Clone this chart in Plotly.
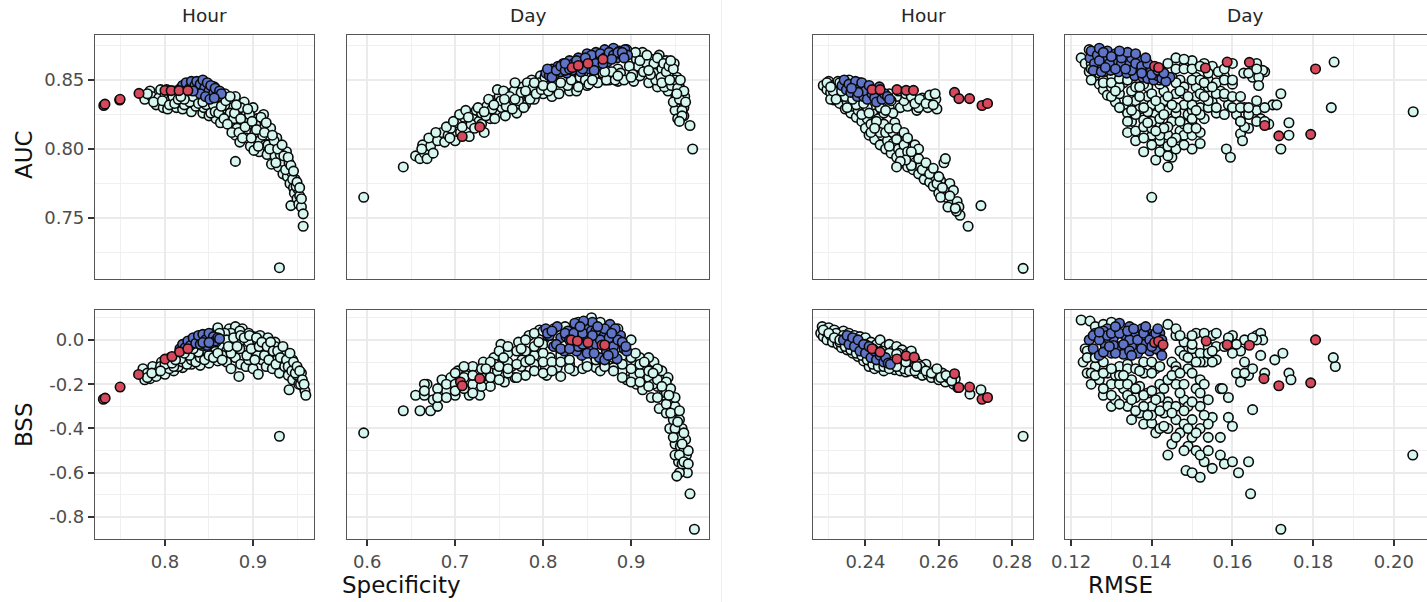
import plotly.graph_objects as go

# (Specificity, AUC) Hour
hour_spec_auc_other = [(.777,.836),(.783,.842),(.785,.838),(.79,.832),(.793,.837),(.795,.843),(.798,.83),(.80,.839),(.803,.829),(.806,.835),(.81,.842),(.813,.83),(.815,.838),(.818,.844),(.82,.829),(.823,.835),(.826,.841),(.829,.832),(.83,.827),(.833,.836),(.836,.844),(.84,.831),(.843,.826),(.846,.835),(.85,.824),(.853,.829),(.856,.845),(.858,.822),(.86,.834),(.863,.819),(.866,.828),(.868,.84),(.87,.823),(.872,.835),(.875,.818),(.877,.829),(.88,.81),(.88,.838),(.883,.822),(.885,.805),(.887,.815),(.89,.834),(.892,.826),(.893,.808),(.895,.818),(.897,.802),(.90,.83),(.902,.812),(.905,.822),(.907,.798),(.908,.806),(.91,.817),(.912,.825),(.914,.803),(.916,.796),(.918,.81),(.92,.815),(.921,.789),(.923,.802),(.925,.795),(.927,.808),(.929,.787),(.93,.80),(.932,.792),(.934,.782),(.936,.79),(.938,.798),(.939,.78),(.94,.786),(.942,.775),(.943,.759),(.944,.783),(.946,.772),(.947,.768),(.948,.778),(.95,.764),(.951,.771),(.952,.76),(.953,.766),(.955,.758),(.957,.753),(.957,.744),(.93,.714),(.88,.791),(.873,.83),(.866,.838),(.808,.84),(.812,.836),(.817,.834),(.821,.838),(.825,.834),(.829,.837),(.833,.833),(.837,.838),(.841,.835),(.845,.84),(.85,.832),(.854,.838),(.858,.83),(.862,.841),(.874,.826),(.878,.822),(.886,.83),(.889,.82),(.896,.825),(.903,.818),(.911,.81),(.917,.803),(.924,.806),(.931,.796),(.937,.785),(.941,.79),(.945,.778),(.949,.773),(.868,.832),(.882,.815),
(.78,.84),(.787,.834),(.797,.835),(.802,.843),(.805,.832),(.809,.838),(.811,.833),(.816,.841),(.819,.835),(.822,.832),(.824,.839),(.827,.836),(.831,.84),(.835,.831),(.838,.835),(.842,.838),(.844,.83),(.847,.832),(.849,.838),(.852,.826),(.855,.832),(.857,.827),(.861,.826),(.864,.831),(.867,.822),(.869,.835),(.871,.818),(.874,.838),(.876,.812),(.879,.826),(.881,.832),(.884,.812),(.886,.822),(.888,.808),(.891,.816),(.894,.829),(.898,.808),(.899,.82),(.901,.799),(.904,.814),(.906,.802),(.909,.823),(.913,.812),(.915,.819),(.919,.8),(.922,.81),(.926,.79),(.928,.8),(.933,.803),(.935,.795),(.94,.794),(.943,.788),(.946,.784),(.95,.776),(.953,.772),(.955,.764),
(.82,.838),(.825,.837),(.83,.835),(.835,.835),(.84,.834),(.815,.836),(.828,.834),(.832,.838),(.838,.833),(.843,.834),(.822,.836),(.818,.838)]
hour_spec_auc_best = [(.816,.843),(.82,.846),(.824,.848),(.828,.844),(.83,.849),(.834,.846),(.836,.849),(.838,.843),(.84,.847),(.843,.85),(.845,.844),(.848,.848),(.85,.842),(.852,.846),(.855,.84),(.857,.844),(.86,.838),(.862,.842),(.864,.84),(.84,.84),(.846,.838),(.851,.836),(.856,.837),(.832,.842)]
hour_spec_auc_top = [(.7305,.8315),(.7318,.8325),(.7485,.8355),(.749,.836),(.7705,.8403),(.80,.8425),(.807,.8423),(.816,.8423),(.826,.8423)]

# (Specificity, AUC) Day
day_spec_auc_other = [(.596,.765),(.641,.787),(.655,.795),(.66,.793),(.665,.797),(.668,.793),(.663,.803),(.672,.802),(.675,.797),(.67,.808),(.68,.806),(.685,.812),(.688,.805),(.692,.81),(.695,.815),(.70,.806),(.703,.819),(.706,.812),(.71,.823),(.713,.815),(.716,.809),(.72,.822),(.724,.828),(.727,.82),(.73,.826),(.733,.812),(.736,.831),(.74,.822),(.743,.835),(.746,.828),(.75,.838),(.753,.83),(.757,.824),(.76,.84),(.763,.833),(.767,.842),(.77,.826),(.773,.837),(.777,.845),(.78,.832),(.783,.84),(.787,.85),(.79,.836),(.793,.845),(.797,.853),(.80,.84),(.803,.848),(.81,.838),(.815,.855),(.82,.844),(.825,.85),(.83,.842),(.835,.857),(.84,.848),(.845,.854),(.85,.846),(.855,.862),(.86,.851),(.865,.858),(.87,.85),(.875,.868),(.88,.855),(.885,.849),(.89,.852),(.895,.872),(.90,.858),(.903,.849),(.906,.865),(.91,.853),(.913,.87),(.916,.858),(.92,.848),(.923,.865),(.926,.855),(.93,.845),(.932,.868),(.935,.858),(.938,.85),(.94,.864),(.942,.842),(.945,.856),(.947,.848),(.949,.862),(.951,.838),(.952,.852),(.954,.832),(.955,.845),(.956,.827),(.957,.84),(.958,.835),(.95,.828),(.948,.834),(.96,.83),(.961,.838),(.96,.824),(.953,.822),(.967,.817),(.97,.80),(.875,.85),(.885,.858),(.895,.854),(.908,.86),(.918,.862),(.928,.85),(.938,.845),
(.662,.8),(.678,.812),(.69,.816),(.694,.808),(.698,.82),(.705,.825),(.708,.816),(.712,.828),(.718,.818),(.722,.815),(.726,.83),(.73,.818),(.735,.824),(.738,.836),(.742,.829),(.745,.822),(.748,.843),(.752,.835),(.755,.842),(.758,.831),(.762,.838),(.765,.829),(.768,.848),(.772,.835),(.775,.841),(.778,.83),(.782,.848),(.785,.836),(.788,.844),(.792,.84),(.795,.848),(.798,.843),(.802,.852),(.806,.842),(.812,.848),(.818,.84),(.822,.85),(.828,.846),(.832,.85),(.838,.842),(.842,.852),(.848,.85),(.852,.847),(.858,.852),(.862,.848),(.868,.855),(.872,.85),(.878,.856),(.882,.85),(.888,.855),(.892,.85),(.898,.86),(.902,.854),(.905,.87),(.91,.864),(.914,.856),(.918,.868),(.922,.854),(.926,.862),(.93,.866),(.934,.852),(.937,.862),(.94,.856),(.943,.86),(.946,.846),(.948,.858),(.95,.85),(.953,.844),(.955,.836),(.956,.85),(.958,.828),(.96,.842),(.962,.834),(.958,.824),(.955,.82),
(.715,.823),(.733,.827),(.744,.832),(.756,.836),(.768,.836),(.78,.842),(.79,.848),(.8,.846),(.81,.845),(.82,.848),(.84,.845),(.856,.85),(.87,.856),(.885,.853),(.9,.852),(.92,.857),(.935,.848),(.945,.864),(.952,.84),(.944,.85)]
day_spec_auc_best = [(.803,.855),(.807,.853),(.81,.858),(.813,.854),(.817,.86),(.82,.856),(.823,.862),(.827,.855),(.83,.864),(.833,.857),(.836,.86),(.84,.866),(.843,.856),(.846,.862),(.85,.869),(.853,.858),(.856,.865),(.86,.87),(.863,.861),(.867,.867),(.87,.872),(.873,.863),(.877,.869),(.88,.873),(.884,.866),(.887,.871),(.89,.868),(.893,.872),(.896,.868),
(.805,.858),(.81,.852),(.815,.857),(.82,.86),(.825,.857),(.83,.858),(.835,.862),(.84,.86),(.845,.858),(.85,.864),(.855,.868),(.86,.862),(.865,.869),(.87,.866),(.875,.87),(.88,.868),(.885,.87),(.89,.87),(.825,.862),(.838,.864),(.848,.866),(.858,.857),(.868,.862),(.878,.865),(.892,.866)]
day_spec_auc_top = [(.708,.809),(.728,.816),(.833,.859),(.84,.8605),(.851,.862),(.868,.865)]

# (RMSE, AUC) Hour
hour_rmse_auc_other = [(.2285,.846),(.2295,.843),(.23,.849),(.2305,.841),(.231,.846),(.2315,.8355),(.232,.842),(.2325,.849),(.233,.833),(.2335,.838),(.234,.845),(.2345,.829),(.235,.834),(.2355,.85),(.236,.826),(.2365,.831),(.237,.838),(.2375,.823),(.238,.828),(.2385,.848),(.239,.82),(.2395,.826),(.24,.815),(.2405,.822),(.241,.81),(.2415,.818),(.242,.826),(.2425,.807),(.243,.815),(.2435,.822),(.244,.803),(.2445,.81),(.245,.818),(.2455,.8),(.246,.806),(.2465,.83),(.247,.797),(.2475,.804),(.248,.819),(.2485,.794),(.249,.8),(.2495,.83),(.25,.79),(.2505,.795),(.251,.806),(.2515,.787),(.252,.793),(.2525,.832),(.253,.785),(.2535,.79),(.254,.828),(.2545,.782),(.255,.787),(.2555,.837),(.256,.778),(.2565,.784),(.257,.83),(.2575,.776),(.258,.835),(.2585,.773),(.259,.78),(.2595,.829),(.26,.768),(.2605,.777),(.2614,.79),(.2618,.793),(.262,.765),(.263,.775),(.264,.77),(.2635,.76),(.265,.762),(.2655,.758),(.2658,.752),(.268,.744),(.2715,.759),(.283,.7135),(.2515,.831),(.2505,.835),(.258,.838),(.2592,.836),(.2565,.836),(.2545,.83),(.235,.84),(.237,.843),(.239,.846),(.241,.836),(.243,.832),(.245,.826),(.2475,.826),(.2425,.84),(.2445,.838),(.2465,.84),(.2485,.838),(.2305,.836),(.2325,.84),(.2345,.843),(.24,.836),(.238,.834),
(.2295,.848),(.2312,.842),(.233,.848),(.2345,.838),(.236,.842),(.2375,.846),(.239,.84),(.2405,.844),(.242,.832),(.2435,.836),(.245,.84),(.247,.835),(.249,.842),(.251,.84),(.2525,.838),(.2535,.833),(.2548,.836),(.2565,.833),(.2575,.839),(.259,.84),(.2585,.832),(.2375,.832),(.239,.825),(.2405,.83),(.2415,.812),(.243,.82),(.244,.812),(.2455,.812),(.2465,.802),(.2475,.812),(.2485,.807),(.2495,.797),(.2505,.803),(.2515,.798),(.2525,.788),(.2535,.798),(.2545,.793),(.2555,.785),(.2565,.79),(.2575,.782),(.2585,.786),(.2595,.775),(.26,.78),(.261,.772),(.2605,.765),(.263,.766),(.2625,.758),(.2648,.755),(.2645,.757),(.2535,.803),(.2545,.8),(.251,.792),(.2495,.791),(.2485,.787),
(.2305,.845),(.232,.836),(.2335,.842),(.235,.83),(.2365,.836),(.238,.841),(.2395,.833),(.241,.826),(.2425,.815),(.244,.83),(.2455,.828),(.2465,.815),(.2485,.815),(.2505,.812),(.2515,.808),(.2525,.798)]
hour_rmse_auc_best = [(.2336,.846),(.2342,.85),(.2348,.843),(.2355,.847),(.236,.841),(.2367,.845),(.2373,.849),(.2378,.838),(.2385,.844),(.239,.848),(.2395,.838),(.24,.842),(.2405,.836),(.241,.846),(.2418,.84),(.2425,.837),(.243,.834),(.2438,.845),(.2445,.836),(.2452,.84),(.246,.838),(.2466,.836),(.238,.841),(.2362,.844)]
hour_rmse_auc_top = [(.2418,.843),(.244,.843),(.2486,.843),(.2511,.8425),(.2531,.8425),(.2643,.841),(.2655,.8365),(.2684,.8365),(.2718,.8315),(.2733,.833)]

# (RMSE, AUC) Day
day_rmse_auc_other = [(.1225,.866),(.1235,.862),(.1245,.872),(.1245,.856),(.126,.852),(.127,.847),(.128,.843),(.129,.839),(.13,.845),(.131,.834),(.132,.84),(.133,.83),(.134,.826),(.135,.842),(.136,.835),(.137,.829),(.138,.821),(.139,.838),(.14,.832),(.141,.825),(.142,.817),(.143,.835),(.144,.828),(.145,.82),(.146,.84),(.147,.813),(.148,.832),(.149,.825),(.15,.818),(.151,.838),(.152,.83),(.153,.822),(.154,.845),(.155,.834),(.156,.826),(.157,.842),(.158,.853),(.159,.832),(.16,.847),(.161,.825),(.162,.82),(.163,.83),(.164,.815),(.165,.852),(.166,.828),(.167,.822),(.168,.856),(.169,.818),(.17,.832),(.171,.832),(.172,.84),(.172,.80),(.174,.81),(.174,.819),(.1852,.863),(.1845,.83),(.2048,.827),(.1585,.80),(.1595,.794),(.14,.765),(.144,.787),(.145,.794),(.141,.792),(.138,.798),(.143,.80),(.147,.805),(.136,.806),(.14,.81),(.144,.81),(.148,.81),(.15,.80),(.152,.804),(.134,.812),(.138,.813),(.142,.806),(.146,.826),(.15,.828),(.154,.83),(.158,.838),(.162,.811),(.1625,.806),(.163,.816),(.135,.82),(.139,.827),(.143,.842),(.147,.85),(.151,.852),(.155,.86),(.16,.862),(.1628,.855),(.166,.862),(.1675,.857),(.1665,.852),(.1665,.846),(.146,.862),(.148,.86),(.15,.864),(.153,.862),(.1565,.856),(.13,.852),(.133,.848),(.136,.85),(.139,.845),(.142,.847),(.145,.852),(.148,.845),(.151,.845),(.125,.862),(.127,.855),
(.125,.85),(.125,.858),(.128,.85),(.128,.848),(.128,.856),(.13,.838),(.13,.848),(.132,.83),(.132,.845),(.132,.851),(.134,.82),(.134,.835),(.134,.85),(.136,.813),(.136,.825),(.136,.845),(.138,.808),(.138,.816),(.138,.83),(.138,.847),(.14,.803),(.14,.815),(.14,.82),(.14,.84),(.14,.852),(.142,.798),(.142,.81),(.142,.822),(.142,.83),(.142,.85),(.142,.858),(.144,.795),(.144,.802),(.144,.816),(.144,.838),(.144,.852),(.144,.862),(.146,.8),(.146,.808),(.146,.83),(.146,.848),(.146,.858),(.146,.866),(.148,.803),(.148,.818),(.148,.84),(.148,.858),(.148,.865),(.15,.81),(.15,.822),(.15,.832),(.15,.85),(.15,.858),(.152,.812),(.152,.825),(.152,.84),(.152,.85),(.152,.86),(.154,.835),(.154,.85),(.154,.855),(.156,.83),(.156,.84),(.156,.848),(.158,.825),(.158,.84),(.158,.85),(.158,.858),(.16,.83),(.16,.838),(.16,.85),(.162,.82),(.162,.83),(.162,.838),(.164,.825),(.164,.83),(.164,.855),(.166,.82),(.166,.835),(.166,.858),(.168,.82),(.168,.83),
(.131,.842),(.135,.828),(.137,.838),(.141,.835),(.143,.825),(.145,.832),(.147,.842),(.149,.838),(.151,.828),(.153,.838),(.143,.815),(.147,.82),(.149,.815),(.153,.848),(.155,.845),(.151,.815),(.137,.845),(.139,.819),(.141,.813),(.145,.805)]
day_rmse_auc_best = [(.1247,.866),(.125,.871),(.1258,.862),(.1265,.868),(.127,.873),(.1278,.86),(.1285,.865),(.129,.871),(.1298,.857),(.1305,.863),(.131,.869),(.1318,.856),(.1325,.862),(.133,.868),(.1338,.855),(.1345,.861),(.135,.866),(.1358,.853),(.1365,.859),(.137,.864),(.1378,.852),(.1385,.858),(.139,.851),(.1398,.856),(.1405,.85),(.1415,.853),(.1425,.851),(.1445,.852),(.1435,.849),
(.1255,.857),(.127,.864),(.128,.87),(.1295,.862),(.131,.858),(.1325,.866),(.134,.87),(.135,.857),(.136,.862),(.1375,.86),(.139,.862),(.1275,.856),(.13,.867),(.1335,.858),(.1375,.855),(.14,.854),(.1415,.857),(.143,.855),(.1285,.859),(.132,.871),(.136,.869),(.1385,.866)]
day_rmse_auc_top = [(.1407,.86),(.1417,.859),(.1533,.8587),(.1587,.863),(.1642,.8628),(.1806,.858),(.168,.817),(.1715,.8095),(.1794,.8106)]

# (Specificity, BSS) Hour
hour_spec_bss_other = [(.775,-.13),(.777,-.18),(.78,-.15),(.783,-.175),(.786,-.12),(.79,-.165),(.793,-.14),(.796,-.10),(.80,-.155),(.803,-.125),(.806,-.08),(.81,-.14),(.813,-.11),(.816,-.065),(.82,-.125),(.823,-.095),(.826,-.05),(.83,-.11),(.833,-.08),(.836,-.02),(.84,-.115),(.843,-.07),(.846,.01),(.85,-.105),(.853,-.06),(.856,.03),(.86,.055),(.86,-.095),(.863,-.03),(.866,.02),(.87,-.10),(.87,-.05),(.873,.05),(.875,-.13),(.877,-.02),(.88,.06),(.88,-.08),(.883,.01),(.884,-.165),(.886,-.11),(.888,.05),(.89,-.04),(.892,-.12),(.895,.03),(.897,-.07),(.90,-.13),(.90,.015),(.903,-.04),(.906,-.155),(.908,.02),(.91,-.09),(.912,-.03),(.915,-.12),(.917,.01),(.92,-.06),(.922,-.13),(.925,-.01),(.927,-.09),(.93,-.15),(.932,-.04),(.935,-.11),(.937,-.07),(.94,-.16),(.941,-.225),(.943,-.10),(.945,-.18),(.947,-.13),(.95,-.16),(.952,-.20),(.955,-.15),(.957,-.21),(.959,-.23),(.96,-.25),(.93,-.435),(.78,-.17),(.81,-.10),(.83,-.06),(.845,-.04),(.855,-.03),(.865,-.07),(.875,.03),(.885,.04),(.895,-.01),(.905,.0),(.915,-.05),(.925,-.03),(.935,-.05),(.945,-.09),(.82,-.07),(.84,-.01),(.85,.0),(.815,-.09),(.825,-.08),(.835,-.05),(.86,.01),(.875,-.06),(.885,-.04),(.895,-.09),(.905,-.07),
(.785,-.15),(.795,-.12),(.805,-.13),(.815,-.12),(.82,-.1),(.825,-.11),(.83,-.09),(.835,-.1),(.84,-.08),(.845,-.09),(.85,-.07),(.855,-.08),(.86,-.06),(.865,-.09),(.868,.03),(.87,.0),(.872,-.03),(.878,.01),(.882,-.03),(.886,.02),(.89,.01),(.893,-.07),(.896,.02),(.898,-.04),(.902,-.09),(.904,.01),(.907,-.03),(.91,-.01),(.913,-.07),(.916,-.03),(.918,-.09),(.92,-.01),(.923,-.05),(.926,-.11),(.928,-.05),(.931,-.08),(.934,-.03),(.936,-.12),(.938,-.09),(.94,-.12),(.942,-.06),(.944,-.14),(.946,-.1),(.948,-.15),(.95,-.12),(.953,-.14),(.954,-.2),(.956,-.18),(.958,-.2),(.81,-.12),(.80,-.11),(.795,-.14),
(.808,-.105),(.818,-.085),(.828,-.07),(.838,-.055),(.848,-.03),(.858,-.01),(.812,-.09),(.822,-.06),(.832,-.04),(.842,-.025),(.852,-.01),(.862,.03)]
hour_spec_bss_best = [(.817,-.04),(.82,-.02),(.823,-.035),(.826,-.005),(.829,-.025),(.832,.01),(.835,-.015),(.838,.02),(.84,-.02),(.843,.025),(.846,.0),(.848,-.025),(.85,.03),(.852,-.015),(.855,.015),(.857,-.005),(.86,.01),(.862,.005),(.843,-.012),(.85,-.012)]
hour_spec_bss_top = [(.73,-.268),(.732,-.263),(.749,-.213),(.77,-.156),(.80,-.087),(.808,-.075),(.8166,-.054),(.826,-.04)]

# (Specificity, BSS) Day
day_spec_bss_other = [(.596,-.42),(.641,-.32),(.655,-.25),(.66,-.32),(.665,-.25),(.672,-.32),(.668,-.2),(.675,-.27),(.68,-.3),(.685,-.18),(.69,-.23),(.695,-.17),(.70,-.25),(.703,-.14),(.707,-.2),(.712,-.16),(.716,-.25),(.72,-.12),(.724,-.19),(.728,-.25),(.732,-.1),(.736,-.16),(.74,-.21),(.744,-.08),(.748,-.14),(.752,-.02),(.756,-.19),(.76,-.06),(.764,-.12),(.768,-.17),(.772,-.01),(.776,-.09),(.78,-.16),(.784,.02),(.788,-.05),(.792,-.13),(.796,.045),(.80,-.02),(.804,-.16),(.808,-.08),(.812,.05),(.816,-.125),(.82,-.165),(.825,.06),(.83,-.11),(.835,-.14),(.84,.08),(.845,-.13),(.85,-.1),(.855,.1),(.86,-.125),(.865,-.14),(.87,-.11),(.875,.06),(.88,-.125),(.885,.05),(.89,-.14),(.895,-.18),(.90,.0),(.903,-.16),(.906,-.2),(.91,-.08),(.913,-.225),(.916,-.13),(.92,-.17),(.923,-.26),(.926,-.1),(.93,-.21),(.932,-.31),(.935,-.14),(.937,-.25),(.94,-.33),(.942,-.17),(.944,-.4),(.946,-.28),(.948,-.36),(.95,-.3),(.95,-.47),(.952,-.42),(.954,-.55),(.955,-.36),(.956,-.48),(.958,-.4),(.96,-.5),(.96,-.58),(.962,-.45),(.963,-.52),(.964,-.6),(.955,-.6),(.952,-.615),(.958,-.56),(.967,-.695),(.972,-.855),(.72,-.2),(.73,-.17),(.745,-.11),(.76,-.15),(.775,-.12),(.79,-.07),(.805,.02),(.82,-.05),(.835,.04),(.85,.07),(.865,.08),(.88,.02),(.895,-.1),(.91,-.15),(.925,-.2),(.94,-.24),
(.665,-.2),(.665,-.23),(.68,-.22),(.68,-.26),(.69,-.2),(.69,-.26),(.70,-.15),(.70,-.2),(.70,-.23),(.71,-.12),(.71,-.17),(.71,-.22),(.72,-.16),(.72,-.24),(.73,-.13),(.73,-.21),(.74,-.1),(.74,-.17),(.75,-.05),(.75,-.12),(.75,-.18),(.76,-.03),(.76,-.1),(.76,-.13),(.77,-.05),(.77,-.17),(.77,-.11),(.78,.0),(.78,-.05),(.78,-.1),(.79,.03),(.79,-.03),(.79,-.11),(.79,-.14),(.80,.04),(.80,-.06),(.80,-.1),(.80,-.15),(.81,-.02),(.81,-.1),(.81,-.14),(.82,-.07),(.82,-.1),(.83,-.09),(.83,-.13),(.85,-.12),(.86,-.09),(.87,-.12),(.88,-.08),(.88,-.14),(.89,-.07),(.89,-.11),(.89,-.17),(.90,-.08),(.90,-.13),(.90,-.19),(.91,-.11),(.91,-.19),(.92,-.08),(.92,-.14),(.92,-.21),(.93,-.13),(.93,-.18),(.93,-.26),(.94,-.19),(.94,-.29),(.945,-.22),(.945,-.33),(.95,-.26),(.95,-.4),(.95,-.52),(.955,-.32),(.955,-.44),(.955,-.52),(.96,-.42),(.96,-.55),(.965,-.5),(.965,-.56),
(.735,-.13),(.755,-.08),(.775,-.04),(.785,-.09),(.795,-.01),(.905,-.06),(.915,-.1),(.925,-.15),(.935,-.21),(.948,-.44),(.943,-.25),(.953,-.37),(.958,-.47)]
day_spec_bss_best = [(.803,.05),(.807,.02),(.812,-.03),(.816,.06),(.82,.01),(.824,-.05),(.828,.04),(.832,-.02),(.836,.075),(.84,.02),(.844,-.07),(.848,.05),(.852,-.04),(.856,.08),(.86,-.02),(.864,-.08),(.868,.03),(.872,-.05),(.876,.07),(.88,-.03),(.884,-.085),(.888,.02),(.892,-.04),(.895,-.05),(.85,.0),(.838,-.05),(.87,-.09),(.882,.05),(.826,.015),(.846,.085),
(.805,.03),(.81,.04),(.815,-.02),(.82,-.04),(.825,.03),(.83,.0),(.835,.03),(.84,-.03),(.845,.03),(.85,-.06),(.855,.04),(.86,.04),(.865,.0),(.87,.05),(.875,.01),(.88,-.06),(.885,.0),(.89,-.01),(.894,-.03),(.842,.06),(.858,-.06),(.874,-.07),(.862,.06),(.878,.03),(.83,-.04),(.845,-.02),(.856,.02)]
day_spec_bss_top = [(.706,-.19),(.708,-.207),(.728,-.175),(.832,.0),(.839,-.005),(.851,-.012),(.867,-.023),(.87,-.023)]

# (RMSE, BSS) Hour
hour_rmse_bss_other = [(.2282,.06),(.2278,.03),(.2285,.015),(.229,.04),(.2295,.0),(.23,.055),(.2305,.02),(.231,-.01),(.2315,.045),(.232,.005),(.2325,-.02),(.233,.03),(.2335,-.035),(.234,.04),(.2345,.0),(.235,-.045),(.2355,.03),(.236,-.02),(.2365,-.06),(.237,.02),(.2375,-.035),(.238,-.075),(.2385,.015),(.239,-.045),(.2395,-.095),(.24,.01),(.2405,-.05),(.241,-.12),(.2415,-.01),(.242,-.08),(.2425,-.13),(.243,-.02),(.2435,-.1),(.244,.0),(.2445,-.12),(.245,-.14),(.2455,-.03),(.246,-.11),(.2465,-.02),(.247,-.12),(.2475,-.05),(.248,-.135),(.2485,-.03),(.249,-.1),(.2495,-.14),(.25,-.045),(.2505,-.11),(.251,-.145),(.2515,-.06),(.252,-.12),(.2525,-.05),(.253,-.13),(.2535,-.09),(.254,-.15),(.2545,-.11),(.255,-.14),(.2555,-.16),(.2565,-.11),(.257,-.155),(.258,-.17),(.259,-.14),(.2595,-.16),(.26,-.18),(.261,-.15),(.2618,-.19),(.2625,-.17),(.264,-.2),(.2645,-.175),(.2652,-.215),(.2715,-.225),(.2685,-.245),(.283,-.435),(.233,-.01),(.236,.01),(.238,-.05),(.24,-.07),(.242,-.04),(.244,-.08),(.246,-.07),(.248,-.09),(.25,-.08),(.252,-.09),(.232,.03),(.234,.02),(.2365,-.04),(.239,-.02),(.241,-.03),(.243,-.06),(.245,-.1),(.247,-.09),(.249,-.06),(.2505,-.13),(.2535,-.12),(.2555,-.13),
(.2285,.045),(.23,.03),(.2315,.01),(.233,.0),(.2345,-.03),(.236,-.045),(.2375,-.06),(.239,-.07),(.2405,-.09),(.242,-.11),(.2435,-.12),(.245,-.12),(.2465,-.13),(.2485,-.12),(.2505,-.09),(.252,-.14),(.2535,-.14),(.255,-.12),(.2565,-.14),(.258,-.15),(.2595,-.13),(.2605,-.17),(.262,-.16),(.2635,-.185),(.235,.015),(.2375,.0),(.24,-.02),(.2425,-.05),(.2445,-.05),(.2465,-.06),(.2485,-.065),(.251,-.1),(.254,-.12)]
hour_rmse_bss_best = [(.234,.0),(.235,.02),(.2355,-.02),(.2365,.01),(.237,-.03),(.238,.0),(.2385,-.05),(.2395,-.02),(.24,-.06),(.241,-.03),(.2415,-.08),(.2425,-.05),(.243,-.09),(.244,-.07),(.245,-.1),(.2455,-.08),(.2462,-.105),(.2468,-.11)]
hour_rmse_bss_top = [(.2418,-.04),(.244,-.055),(.2486,-.086),(.2511,-.072),(.2533,-.078),(.2643,-.153),(.2655,-.215),(.2684,-.213),(.2718,-.268),(.2733,-.26)]

# (RMSE, BSS) Day
day_rmse_bss_other = [(.1225,.09),(.1247,.085),(.123,-.1),(.1235,-.04),(.124,-.15),(.125,-.2),(.126,-.12),(.127,-.18),(.128,-.25),(.129,-.15),(.13,-.3),(.13,-.2),(.131,-.27),(.132,-.12),(.133,-.22),(.134,-.3),(.135,-.36),(.135,-.18),(.136,-.26),(.137,-.33),(.138,-.15),(.138,-.38),(.139,-.24),(.14,-.3),(.14,-.376),(.141,-.13),(.141,-.42),(.142,-.2),(.143,-.33),(.144,-.28),(.144,-.52),(.145,-.47),(.145,-.1),(.146,-.36),(.146,-.2),(.147,-.05),(.147,-.42),(.148,-.27),(.1485,-.59),(.149,-.13),(.149,-.48),(.15,-.36),(.15,-.6),(.15,-.04),(.151,-.22),(.151,-.5),(.152,-.62),(.152,-.3),(.153,-.1),(.153,-.55),(.154,-.44),(.154,-.03),(.155,-.35),(.155,-.58),(.156,-.09),(.157,-.22),(.157,-.44),(.157,-.52),(.158,-.56),(.159,-.35),(.159,-.26),(.16,.02),(.16,-.55),(.16,-.39),(.161,-.15),(.1615,-.6),(.162,-.19),(.162,-.05),(.163,-.1),(.164,-.55),(.164,-.16),(.165,-.315),(.1645,-.695),(.165,-.13),(.166,.02),(.167,.03),(.167,-.07),(.1675,.0),(.168,-.15),(.1705,-.09),(.1725,-.06),(.174,-.15),(.1745,-.18),(.1855,-.12),(.185,-.08),(.172,-.855),(.2047,-.52),(.1575,-.22),(.151,.03),(.155,.02),(.159,.01),(.163,.0),(.166,.0),(.146,.02),(.148,-.01),(.152,-.06),(.156,-.03),(.125,-.15),(.128,-.1),(.131,-.16),(.134,-.11),(.137,-.21),(.14,-.15),(.143,-.22),(.146,-.12),(.149,-.3),(.152,-.18),(.155,-.1),(.142,-.26),(.148,-.38),
(.124,-.05),(.124,-.08),(.126,-.16),(.126,-.08),(.126,.06),(.128,-.22),(.128,-.15),(.128,.07),(.13,-.25),(.13,-.13),(.13,.08),(.132,-.29),(.132,-.2),(.132,-.16),(.134,-.2),(.134,-.25),(.134,-.13),(.136,-.32),(.136,-.22),(.136,-.13),(.138,-.3),(.138,-.25),(.138,-.1),(.14,-.34),(.14,-.23),(.14,-.1),(.142,-.4),(.142,-.32),(.142,-.12),(.142,-.05),(.144,-.4),(.144,-.3),(.144,-.18),(.144,.07),(.146,-.44),(.146,-.3),(.146,-.14),(.146,.05),(.148,-.5),(.148,-.32),(.148,-.2),(.148,-.07),(.15,-.44),(.15,-.28),(.15,-.15),(.15,-.02),(.152,-.52),(.152,-.4),(.152,-.24),(.152,-.1),(.154,-.5),(.154,-.38),(.154,-.27),(.154,-.06),
(.133,-.16),(.135,-.27),(.137,-.14),(.139,-.34),(.141,-.27),(.143,-.39),(.145,-.33),(.147,-.24),(.149,-.4),(.151,-.42),(.153,-.34),(.145,-.16),(.147,-.15),(.149,-.08),(.151,-.1),(.153,-.2),(.155,-.05),(.147,.02),(.15,.02),(.153,.03),(.156,.03),(.158,-.03),(.16,-.06),(.161,-.02),(.163,-.15),(.165,.01)]
day_rmse_bss_best = [(.1245,.0),(.1255,-.04),(.126,.03),(.127,-.07),(.1275,.015),(.1285,-.03),(.129,.05),(.13,-.06),(.1305,.01),(.1315,-.03),(.132,.075),(.133,-.065),(.1335,.02),(.1345,.06),(.135,-.03),(.136,.02),(.1365,-.06),(.1375,.05),(.138,-.02),(.139,.03),(.1395,-.05),(.1405,.02),(.141,-.04),(.142,.03),(.1425,-.07),(.128,.04),(.1305,-.025),(.1345,.0),
(.1255,.02),(.127,.0),(.128,-.055),(.129,.02),(.13,.03),(.131,-.06),(.132,.03),(.133,-.02),(.134,.04),(.1355,.05),(.1365,.0),(.1375,-.04),(.138,.03),(.1395,.0),(.14,-.03),(.141,.03),(.1425,.0),(.131,.06),(.1345,-.05),(.1385,.06),(.1415,.05),(.127,.035),(.1295,-.03),(.135,-.07)]
day_rmse_bss_top = [(.1407,-.012),(.1417,-.006),(.1428,-.022),(.1535,-.005),(.1587,-.022),(.1642,-.024),(.1806,.0),(.1678,-.175),(.1715,-.207),(.1794,-.194)]

strip_titles = ["Hour", "Day", "Hour", "Day"]
row_titles = ["AUC", "BSS"]
x_titles = ["Specificity", "RMSE"]
auc_ticks = [0.75, 0.80, 0.85]
bss_ticks = [-0.8, -0.6, -0.4, -0.2, 0.0]
spec_hour_ticks = [0.8, 0.9]
spec_day_ticks = [0.6, 0.7, 0.8, 0.9]
rmse_hour_ticks = [0.24, 0.26, 0.28]
rmse_day_ticks = [0.12, 0.14, 0.16, 0.18, 0.20]

W, H = 1427, 602
COL_PX = [(95, 314), (347, 709), (813, 1033), (1065, 1426.5)]
ROW_PX = [(35, 279), (310, 539)]
X_RANGE = [(.7205, .9693), (.577, .9886), (.2257, .2857), (.1185, .2081)]
Y_RANGE = [(.7058, .8826), (-.899, .135)]
X_TICKS = [spec_hour_ticks, spec_day_ticks, rmse_hour_ticks, rmse_day_ticks]
X_FMT = [".1f", ".1f", ".2f", ".2f"]
X_MINOR = [.05, .05, .01, .01]
X_TICK0 = [.75, .55, .23, .11]
Y_TICKS = [auc_ticks, bss_ticks]
Y_FMT = [".2f", ".1f"]
Y_MINOR = [.025, .1]
Y_TICK0 = [.7, -1.0]

PANELS = [
    [(hour_spec_auc_other, hour_spec_auc_best, hour_spec_auc_top),
     (day_spec_auc_other, day_spec_auc_best, day_spec_auc_top),
     (hour_rmse_auc_other, hour_rmse_auc_best, hour_rmse_auc_top),
     (day_rmse_auc_other, day_rmse_auc_best, day_rmse_auc_top)],
    [(hour_spec_bss_other, hour_spec_bss_best, hour_spec_bss_top),
     (day_spec_bss_other, day_spec_bss_best, day_spec_bss_top),
     (hour_rmse_bss_other, hour_rmse_bss_best, hour_rmse_bss_top),
     (day_rmse_bss_other, day_rmse_bss_best, day_rmse_bss_top)],
]
COLORS = ["#d6f6f0", "#5f74c6", "#d6485c"]
FONT = "DejaVu Sans"

fig = go.Figure()
layout = {}
n = 0
for r in range(2):
    for c in range(4):
        n += 1
        sx = "" if n == 1 else str(n)
        for pts, color in zip(PANELS[r][c], COLORS):
            fig.add_trace(go.Scatter(
                x=[p[0] for p in pts], y=[p[1] for p in pts],
                mode="markers", xaxis="x" + sx, yaxis="y" + sx, showlegend=False,
                marker=dict(size=9.5, color=color, line=dict(color="#0a0a0a", width=1.6)),
            ))
        showx = r == 1
        showy = c == 0
        layout["xaxis" + sx] = dict(
            domain=[COL_PX[c][0] / W, COL_PX[c][1] / W], range=list(X_RANGE[c]), anchor="y" + sx,
            tickmode="array", tickvals=X_TICKS[c], ticktext=[format(v, X_FMT[c]) for v in X_TICKS[c]],
            showticklabels=showx, ticks="outside" if showx else "", ticklen=6, tickwidth=1.5, tickcolor="#333333",
            tickfont=dict(family=FONT, size=18, color="#4d4d4d"),
            showgrid=True, gridcolor="#ebebeb", gridwidth=2, zeroline=False,
            minor=dict(tick0=X_TICK0[c], dtick=X_MINOR[c], showgrid=True, gridcolor="#f0f0f0", gridwidth=1, ticks=""),
            showline=True, mirror=True, linecolor="#555555", linewidth=1.2,
        )
        layout["yaxis" + sx] = dict(
            domain=[1 - ROW_PX[r][1] / H, 1 - ROW_PX[r][0] / H], range=list(Y_RANGE[r]), anchor="x" + sx,
            tickmode="array", tickvals=Y_TICKS[r], ticktext=[format(v, Y_FMT[r]) for v in Y_TICKS[r]],
            showticklabels=showy, ticks="outside" if showy else "", ticklen=6, tickwidth=1.5, tickcolor="#333333",
            tickfont=dict(family=FONT, size=18, color="#4d4d4d"),
            showgrid=True, gridcolor="#ebebeb", gridwidth=2, zeroline=False,
            minor=dict(tick0=Y_TICK0[r], dtick=Y_MINOR[r], showgrid=True, gridcolor="#f0f0f0", gridwidth=1, ticks=""),
            showline=True, mirror=True, linecolor="#555555", linewidth=1.2,
        )

annotations = []
for c, title in enumerate(strip_titles):
    annotations.append(dict(text=title, x=(COL_PX[c][0] + COL_PX[c][1]) / 2 / W, y=1 - 16 / H, xref="paper", yref="paper",
                            showarrow=False, xanchor="center", yanchor="middle",
                            font=dict(family=FONT, size=18.5, color="#262626")))
for title, ypx in zip(row_titles, [155, 425]):
    annotations.append(dict(text=title, x=24 / W, y=1 - ypx / H, xref="paper", yref="paper", textangle=-90,
                            showarrow=False, xanchor="center", yanchor="middle",
                            font=dict(family=FONT, size=23, color="#111111")))
for title, xpx in zip(x_titles, [401, 1120]):
    annotations.append(dict(text=title, x=xpx / W, y=1 - 585 / H, xref="paper", yref="paper",
                            showarrow=False, xanchor="center", yanchor="middle",
                            font=dict(family=FONT, size=23, color="#111111")))

fig.update_layout(
    width=W, height=H, margin=dict(l=0, r=0, t=0, b=0, autoexpand=False), autosize=False,
    paper_bgcolor="white", plot_bgcolor="white", showlegend=False, annotations=annotations,
    shapes=[dict(type="line", xref="paper", yref="paper", x0=721.5 / W, x1=721.5 / W, y0=0, y1=1,
                 line=dict(color="#efefef", width=1))],
    **layout,
)
fig.write_html("out.html", config={"displayModeBar": False},
               post_script="document.body.style.margin='0';document.body.style.overflow='hidden';")
